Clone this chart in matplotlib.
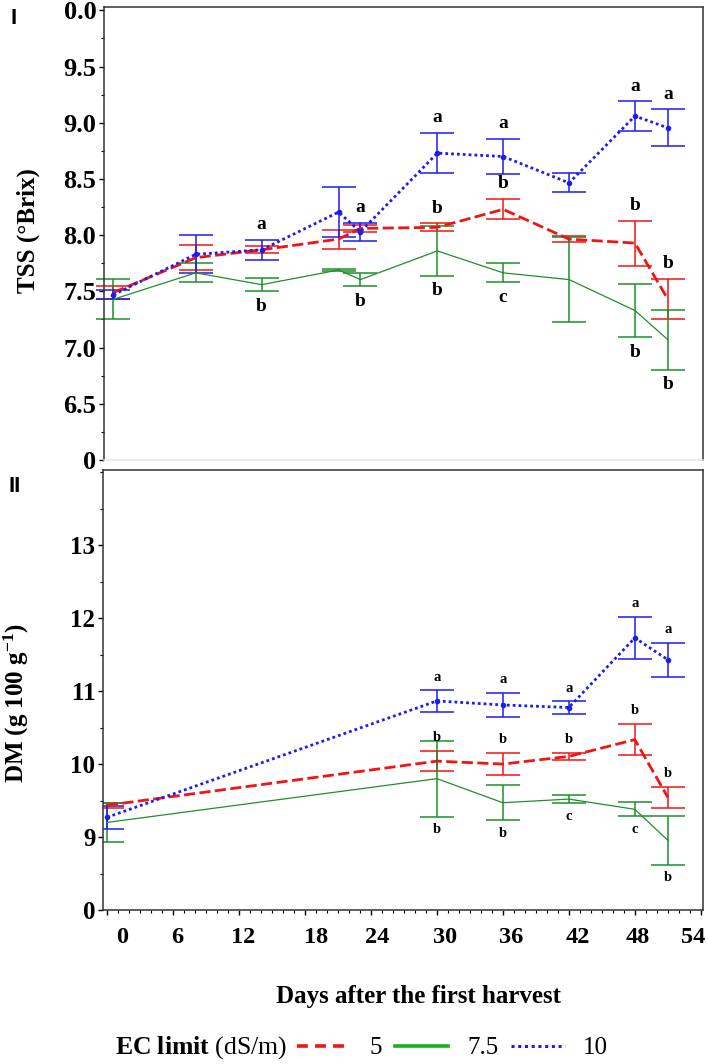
import matplotlib
matplotlib.use("Agg")
import matplotlib.pyplot as plt
import matplotlib.transforms as mtransforms
from matplotlib.lines import Line2D
from matplotlib.ticker import MultipleLocator, FixedLocator
import numpy as np

plt.rcParams['font.family'] = 'Liberation Serif'
plt.rcParams['mathtext.fontset'] = 'custom'
plt.rcParams['mathtext.rm'] = 'Liberation Serif'
plt.rcParams['mathtext.bf'] = 'Liberation Serif:bold'
plt.rcParams['mathtext.it'] = 'Liberation Serif:italic'

# ---- data ----
# panel I: total soluble solids
tss_days = [0.5, 8, 14, 21, 23, 30, 36, 42, 48, 51]
tss_ec5 = [7.49, 7.80, 7.87, 7.965, 8.06, 8.07, 8.23, 7.965, 7.93, 7.43]
tss_ec5_err = [0.055, 0.11, 0.03, 0.085, 0.03, 0.035, 0.09, 0.03, 0.20, 0.18]
tss_ec75 = [7.43, 7.665, 7.56, 7.69, 7.605, 7.86, 7.665, 7.605, 7.33, 7.07]
tss_ec75_err = [0.18, 0.085, 0.06, 0.01, 0.06, 0.22, 0.085, 0.375, 0.24, 0.265]
tss_ec10 = [7.47, 7.83, 7.87, 8.205, 8.03, 8.73, 8.70, 8.465, 9.06, 8.955]
tss_ec10_err = [0.04, 0.17, 0.09, 0.225, 0.08, 0.18, 0.155, 0.085, 0.13, 0.165]

# panel II: dry matter
dm_days = [0, 30, 36, 42, 48, 51]
dm_ec5 = [9.435, 10.04, 10.0, 10.105, 10.335, 9.545]
dm_ec5_err = [0.035, 0.14, 0.15, 0.045, 0.215, 0.145]
dm_ec75 = [9.2, 9.80, 9.47, 9.52, 9.38, 8.955]
dm_ec75_err = [0.27, 0.52, 0.24, 0.06, 0.095, 0.335]
dm_ec10 = [9.27, 10.865, 10.81, 10.775, 11.73, 11.43]
dm_ec10_err = [0.16, 0.145, 0.17, 0.085, 0.29, 0.23]

# significance letters: (point index, series, letter, above/below)
tss_letters = [(2, '10', 'a', 'up'), (2, '7.5', 'b', 'down'),
               (4, '10', 'a', 'up'), (4, '7.5', 'b', 'down'),
               (5, '10', 'a', 'up'), (5, '5', 'b', 'up'), (5, '7.5', 'b', 'down'),
               (6, '10', 'a', 'up'), (6, '5', 'b', 'up'), (6, '7.5', 'c', 'down'),
               (8, '10', 'a', 'up'), (8, '5', 'b', 'up'), (8, '7.5', 'b', 'down'),
               (9, '10', 'a', 'up'), (9, '5', 'b', 'up'), (9, '7.5', 'b', 'down')]
dm_letters = [(1, '10', 'a', 'up'), (1, '5', 'b', 'up'), (1, '7.5', 'b', 'down'),
              (2, '10', 'a', 'up'), (2, '5', 'b', 'up'), (2, '7.5', 'b', 'down'),
              (3, '10', 'a', 'up'), (3, '5', 'b', 'up'), (3, '7.5', 'c', 'down'),
              (4, '10', 'a', 'up'), (4, '5', 'b', 'up'), (4, '7.5', 'c', 'down'),
              (5, '10', 'a', 'up'), (5, '5', 'b', 'up'), (5, '7.5', 'b', 'down')]

x_ticks = [0, 6, 12, 18, 24, 30, 36, 42, 48, 54]
tss_ticks = [6.0, 6.5, 7.0, 7.5, 8.0, 8.5, 9.0, 9.5, 10.0]
tss_ticklabels = ['0', '6.5', '7.0', '7.5', '8.0', '8.5', '9.0', '9.5', '0.0']
dm_ticks = [8, 9, 10, 11, 12, 13]
dm_ticklabels = ['0', '9', '10', '11', '12', '13']

# the day labels sit a little off their ticks in the original (pixels)
x_label_nudge = [15, 4, 4, 11, 6, 8, 8, 9, 3, -8]

red = '#f01414'
green = '#1f8f2a'
blue = '#1c1cf0'
styles = {
    '5': dict(color=red, ls=(0, (4, 1.6)), lw=2.0, marker=None),
    '7.5': dict(color=green, ls='-', lw=0.9, marker=None),
    '10': dict(color=blue, ls=(0, (1, 1.1)), lw=2.0, marker='o'),
}

W, H = 708, 1064
fig = plt.figure(figsize=(W / 100, H / 100), dpi=100)
ax1 = fig.add_axes([104 / W, 1 - 460 / H, 599 / W, 453 / H])
ax2 = fig.add_axes([103 / W, 1 - 910 / H, 600 / W, 440 / H])


def draw_panel(ax, days, series, letters, clip, fs, off):
    for key, (vals, errs) in series.items():
        st = styles[key]
        ax.errorbar(days, vals, yerr=errs, fmt='none', ecolor=st['color'],
                    elinewidth=1.1, capsize=12.5, capthick=1.1, clip_on=clip, zorder=2)
        ax.plot(days, vals, color=st['color'], ls=st['ls'], lw=st['lw'],
                marker=st['marker'], ms=3, zorder=3)
    for i, key, letter, pos in letters:
        vals, errs = series[key]
        if pos == 'up':
            y, dy = vals[i] + errs[i], off
        else:
            y, dy = vals[i] - errs[i], -off
        ax.annotate(letter, (days[i], y), xytext=(0, dy), textcoords='offset points',
                    ha='center', va='center', fontsize=fs, fontweight='bold')


draw_panel(ax1, tss_days,
           {'5': (tss_ec5, tss_ec5_err), '7.5': (tss_ec75, tss_ec75_err),
            '10': (tss_ec10, tss_ec10_err)},
           tss_letters, False, 14, 11)
draw_panel(ax2, dm_days,
           {'5': (dm_ec5, dm_ec5_err), '7.5': (dm_ec75, dm_ec75_err),
            '10': (dm_ec10, dm_ec10_err)},
           dm_letters, True, 10.5, 9.5)

for ax in (ax1, ax2):
    ax.set_xlim(-0.36, 54.2)
    for s in ax.spines.values():
        s.set_color('#333333')
        s.set_linewidth(1.1)
    ax.tick_params(axis='y', which='major', direction='out', length=3.5, width=1, pad=2)
    ax.tick_params(axis='y', which='minor', direction='out', length=2, width=0.8)

# panel I
ax1.set_ylim(6.0, 10.03)
ax1.yaxis.set_major_locator(FixedLocator(tss_ticks))
ax1.set_yticklabels(tss_ticklabels, fontsize=19, fontweight='bold')
ax1.yaxis.set_minor_locator(MultipleLocator(0.25))
ax1.tick_params(axis='x', which='both', bottom=False, labelbottom=False)
ax1.spines['bottom'].set_color('#e6e6e6')

# panel II
ax2.set_ylim(8.0, 14.03)
ax2.yaxis.set_major_locator(FixedLocator(dm_ticks))
ax2.set_yticklabels(dm_ticklabels, fontsize=18, fontweight='bold')
ax2.yaxis.set_minor_locator(MultipleLocator(0.5))
ax2.xaxis.set_major_locator(FixedLocator(x_ticks))
ax2.xaxis.set_minor_locator(MultipleLocator(1))
ax2.set_xticklabels([str(t) for t in x_ticks], fontsize=17.5, fontweight='bold')
ax2.tick_params(axis='x', which='major', direction='out', length=3.5, width=1, pad=9)
ax2.tick_params(axis='x', which='minor', direction='out', length=2, width=0.8)
for lab, dx in zip(ax2.get_xticklabels(), x_label_nudge):
    shift = mtransforms.ScaledTranslation(dx / 100, 0, fig.dpi_scale_trans)
    lab.set_transform(lab.get_transform() + shift)

# axis titles and panel marks
fig.text(28 / W, 1 - 231 / H, 'TSS (°Brix)', rotation=90, ha='center', va='center',
         fontsize=18, fontweight='bold')
fig.text(16 / W, 1 - 703 / H, r'DM (g 100 g$^{\mathbf{-1}}$)', rotation=90, ha='center',
         va='center', fontsize=18, fontweight='bold')
fig.text(419 / W, 1 - 996 / H, 'Days after the first harvest', ha='center', va='center',
         fontsize=18, fontweight='bold')
fig.text(14 / W, 1 - 18 / H, 'I', ha='center', va='center', fontsize=16,
         fontweight='bold', family='Liberation Sans')
fig.text(15 / W, 1 - 487 / H, 'II', ha='center', va='center', fontsize=16,
         fontweight='bold', family='Liberation Sans')

# legend
fig.text(287 / W, 1 - 1048 / H, r'$\mathbf{EC\ limit}$ (dS/m)', ha='right', va='center',
         fontsize=18.5)
handles = [Line2D([], [], color=red, ls=(0, (3, 2)), lw=2.6),
           Line2D([], [], color='#18b01c', ls='-', lw=2.6),
           Line2D([], [], color=blue, ls=(0, (1, 1.2)), lw=2.2)]
fig.legend(handles, ['5', '7.5', '10'], loc='center left',
           bbox_to_anchor=(297 / W, 1 - 1048 / H), ncol=3, frameon=False, fontsize=18,
           handlelength=2.15, handletextpad=0.75, columnspacing=0.5, borderpad=0,
           borderaxespad=0)

fig.savefig('out.png', dpi=100)
